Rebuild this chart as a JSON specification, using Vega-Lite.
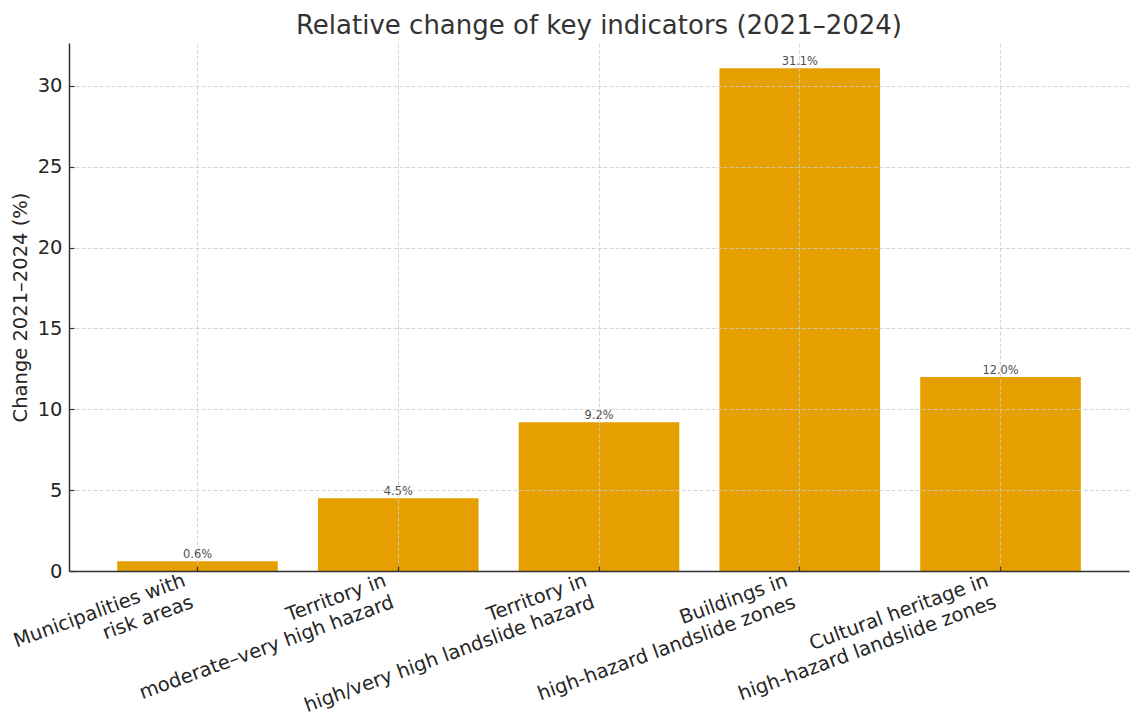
{
  "$schema": "https://vega.github.io/schema/vega-lite/v6.json",
  "width": 1060,
  "height": 528,
  "autosize": {"type": "none"},
  "padding": {"left": 69, "top": 43, "right": 1, "bottom": 147},
  "background": "white",
  "title": {
    "text": "Relative change of key indicators (2021–2024)",
    "font": "DejaVu Sans",
    "fontSize": 26,
    "fontWeight": "normal",
    "color": "#333333",
    "anchor": "middle",
    "offset": 4
  },
  "config": {
    "view": {"stroke": null},
    "font": "DejaVu Sans"
  },
  "data": {
    "values": [
      {"indicator": "Municipalities with\nrisk areas", "change": 0.6},
      {"indicator": "Territory in\nmoderate–very high hazard", "change": 4.5},
      {"indicator": "Territory in\nhigh/very high landslide hazard", "change": 9.2},
      {"indicator": "Buildings in\nhigh-hazard landslide zones", "change": 31.1},
      {"indicator": "Cultural heritage in\nhigh-hazard landslide zones", "change": 12.0}
    ]
  },
  "transform": [
    {"calculate": "format(datum.change, '.1f') + '%'", "as": "label"}
  ],
  "encoding": {
    "x": {
      "field": "indicator",
      "type": "nominal",
      "sort": null,
      "scale": {"paddingInner": 0.2, "paddingOuter": 0.24},
      "axis": {
        "title": null,
        "bandPosition": 0.5,
        "labelExpr": "split(datum.value, '\\n')",
        "labelAngle": -20,
        "labelAlign": "right",
        "labelBaseline": "top",
        "labelFont": "DejaVu Sans",
        "labelFontSize": 19.5,
        "labelLineHeight": 23,
        "labelColor": "#262626",
        "labelOffset": -16,
        "labelPadding": 5,
        "labelOverlap": false,
        "labelLimit": 0,
        "grid": true,
        "gridColor": "#cccccc",
        "gridDash": [4, 2],
        "gridWidth": 0.8,
        "domainColor": "#333333",
        "domainWidth": 1.5,
        "tickColor": "#333333",
        "tickSize": -5,
        "tickWidth": 1.2,
        "zindex": 1
      }
    },
    "y": {
      "field": "change",
      "type": "quantitative",
      "scale": {"domain": [0, 32.655], "nice": false, "zero": true},
      "axis": {
        "title": "Change 2021–2024 (%)",
        "titleFont": "DejaVu Sans",
        "titleFontSize": 19.5,
        "titleFontWeight": "normal",
        "titleColor": "#262626",
        "titlePadding": 7,
        "values": [0, 5, 10, 15, 20, 25, 30],
        "labelFont": "DejaVu Sans",
        "labelFontSize": 19.5,
        "labelColor": "#262626",
        "labelPadding": 12,
        "grid": true,
        "gridColor": "#cccccc",
        "gridDash": [4, 2],
        "gridWidth": 0.8,
        "domainColor": "#333333",
        "domainWidth": 1.5,
        "tickColor": "#333333",
        "tickSize": -5,
        "tickWidth": 1.2,
        "zindex": 1
      }
    }
  },
  "layer": [
    {
      "mark": {"type": "bar", "color": "#E69F00"}
    },
    {
      "mark": {
        "type": "text",
        "baseline": "bottom",
        "dy": -1,
        "fontSize": 11.4,
        "font": "DejaVu Sans",
        "color": "#4d4d4d"
      },
      "encoding": {
        "text": {"field": "label"}
      }
    }
  ]
}
